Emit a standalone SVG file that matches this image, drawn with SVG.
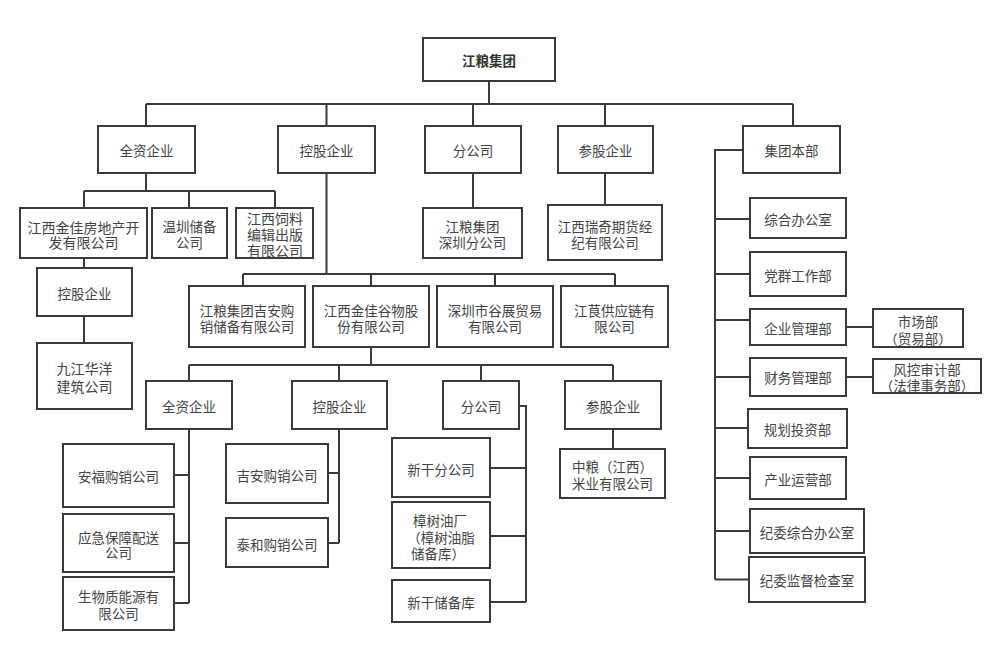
<svg xmlns="http://www.w3.org/2000/svg" width="1000" height="655" viewBox="0 0 1000 655">
<style>
.b{fill:#fff;stroke:#3a3a3a;stroke-width:2}
.c{fill:none;stroke:#3a3a3a;stroke-width:2}
text{font-family:"Noto Sans CJK SC","Noto Sans",sans-serif;font-size:13.5px;fill:#444;text-anchor:middle;dominant-baseline:central}
.t{font-weight:bold;fill:#333}
.f14{font-size:14px}
</style>
<rect width="1000" height="655" fill="#fff"/>
<g id="connectors" class="c">
<path d="M489,81V104M146,104H793M146,104V126M326.5,104V126M473,104V126M605,104V126M793,104V126"/>
<path d="M146,173V191M84,191H275M84,191V208M189,191V208M275,191V208"/>
<path d="M84,258V268M84,316V343"/>
<path d="M326.5,173V274M243,274H615M243,274V286M371,274V286M495,274V286M615,274V286"/>
<path d="M473,173V208M605,173V205"/>
<path d="M743,150H715V579.5M715,219H750M715,274H750M715,320H750M715,377H750M715,428H748M715,478H750M715,531H750M715,579.5H749"/>
<path d="M846,327H873M846,377H873"/>
<path d="M371,347V365M189,365H613M189,365V381M339,365V381M481,365V381M613,365V381"/>
<path d="M189,429V603M174,475H189M174,543H189M174,603H189"/>
<path d="M339,429V543M328,473H339M328,543H339"/>
<path d="M519,406H526V602M490,468H526M490,536H526M490,602H526"/>
<path d="M613,429V449"/>
</g>
<g id="root"><rect class="b" x="423" y="38" width="132" height="43"/><text class="t" x="489" y="60">江粮集团</text></g>
<g id="n-qz"><rect class="b" x="98" y="126" width="97" height="47"/><text x="146.5" y="150">全资企业</text></g>
<g id="n-kg"><rect class="b" x="278" y="126" width="97" height="47"/><text x="326.5" y="150">控股企业</text></g>
<g id="n-fgs"><rect class="b" x="425" y="126" width="96" height="47"/><text x="473" y="150">分公司</text></g>
<g id="n-cg"><rect class="b" x="558" y="126" width="95" height="47"/><text x="605.5" y="150">参股企业</text></g>
<g id="n-jtbb"><rect class="b" x="743" y="126" width="97" height="47"/><text x="791.5" y="150">集团本部</text></g>
<g id="n-fdc"><rect class="b" x="20" y="208" width="127" height="50"/><text class="f14" x="83.5" y="226.5">江西金佳房地产开<tspan x="83.5" dy="15.5">发有限公司</tspan></text></g>
<g id="n-wz"><rect class="b" x="152" y="208" width="75" height="50"/><text x="189.5" y="225.5">温圳储备<tspan x="189.5" dy="16.5">公司</tspan></text></g>
<g id="n-sl"><rect class="b" x="236" y="208" width="77" height="50"/><text class="f14" x="275" y="217.5">江西饲料<tspan x="275" dy="16.5">编辑出版</tspan><tspan x="275" dy="16">有限公司</tspan></text></g>
<g id="n-kg2"><rect class="b" x="37" y="268" width="95" height="48"/><text x="84.5" y="293">控股企业</text></g>
<g id="n-hy"><rect class="b" x="37" y="343" width="95" height="66"/><text class="f14" x="84.5" y="368">九江华洋<tspan x="84.5" dy="17.5">建筑公司</tspan></text></g>
<g id="n-szfgs"><rect class="b" x="423" y="208" width="99" height="50"/><text x="472.5" y="226">江粮集团<tspan x="472.5" dy="16">深圳分公司</tspan></text></g>
<g id="n-rq"><rect class="b" x="548" y="205" width="114" height="55"/><text x="605" y="226">江西瑞奇期货经<tspan x="605" dy="16">纪有限公司</tspan></text></g>
<g id="n-ja"><rect class="b" x="189" y="286" width="116" height="61"/><text x="247" y="310">江粮集团吉安购<tspan x="247" dy="16">销储备有限公司</tspan></text></g>
<g id="n-gw"><rect class="b" x="313" y="286" width="116" height="61"/><text x="371" y="310">江西金佳谷物股<tspan x="371" dy="16">份有限公司</tspan></text></g>
<g id="n-gz"><rect class="b" x="437" y="286" width="116" height="61"/><text x="495" y="310">深圳市谷展贸易<tspan x="495" dy="16">有限公司</tspan></text></g>
<g id="n-gyl"><rect class="b" x="561" y="286" width="107" height="61"/><text x="614.5" y="310">江茛供应链有<tspan x="614.5" dy="16">限公司</tspan></text></g>
<g id="n-qz3"><rect class="b" x="146" y="381" width="86" height="48"/><text x="189" y="406">全资企业</text></g>
<g id="n-kg3"><rect class="b" x="292" y="381" width="95" height="48"/><text x="339.5" y="406">控股企业</text></g>
<g id="n-fgs3"><rect class="b" x="443" y="381" width="76" height="48"/><text x="481" y="406">分公司</text></g>
<g id="n-cg3"><rect class="b" x="565" y="381" width="96" height="48"/><text x="613" y="406">参股企业</text></g>
<g id="n-af"><rect class="b" x="63" y="444" width="111" height="63"/><text x="118.5" y="476">安福购销公司</text></g>
<g id="n-yj"><rect class="b" x="63" y="514" width="111" height="58"/><text x="118.5" y="536.5">应急保障配送<tspan x="118.5" dy="15.5">公司</tspan></text></g>
<g id="n-sw"><rect class="b" x="63" y="577" width="111" height="53"/><text x="118.5" y="596">生物质能源有<tspan x="118.5" dy="16.5">限公司</tspan></text></g>
<g id="n-jags"><rect class="b" x="226" y="444" width="102" height="59"/><text x="277" y="474.5">吉安购销公司</text></g>
<g id="n-th"><rect class="b" x="226" y="518" width="102" height="49"/><text x="277" y="544">泰和购销公司</text></g>
<g id="n-xg"><rect class="b" x="392" y="438" width="98" height="59"/><text x="441" y="468.5">新干分公司</text></g>
<g id="n-zs"><rect class="b" x="392" y="502" width="98" height="66"/><text x="440" y="519.5">樟树油厂<tspan x="441" dy="17">（樟树油脂</tspan><tspan x="438" dy="16.5">储备库）</tspan></text></g>
<g id="n-xgck"><rect class="b" x="392" y="580" width="98" height="42"/><text x="441" y="602">新干储备库</text></g>
<g id="n-zl"><rect class="b" x="560" y="449" width="105" height="49"/><text x="612.5" y="466">中粮（江西）<tspan x="612.5" dy="17">米业有限公司</tspan></text></g>
<g id="n-zh"><rect class="b" x="750" y="198" width="96" height="40"/><text x="798" y="219">综合办公室</text></g>
<g id="n-dq"><rect class="b" x="750" y="252" width="96" height="44"/><text x="798" y="275">党群工作部</text></g>
<g id="n-qygl"><rect class="b" x="750" y="309" width="96" height="36"/><text x="798" y="328">企业管理部</text></g>
<g id="n-sc"><rect class="b" x="873" y="309" width="90" height="38"/><text x="918" y="321">市场部<tspan x="918" dy="16.5">（贸易部）</tspan></text></g>
<g id="n-cw"><rect class="b" x="750" y="358" width="96" height="38"/><text x="798" y="377">财务管理部</text></g>
<g id="n-fk"><rect class="b" x="873" y="359" width="108" height="34"/><text x="927" y="369">风控审计部<tspan x="927" dy="15.5">（法律事务部）</tspan></text></g>
<g id="n-gh"><rect class="b" x="748" y="409" width="99" height="39"/><text x="797.5" y="429">规划投资部</text></g>
<g id="n-cy"><rect class="b" x="750" y="457" width="96" height="42"/><text x="798" y="479">产业运营部</text></g>
<g id="n-jwzh"><rect class="b" x="750" y="509" width="114" height="44"/><text x="807" y="531.5">纪委综合办公室</text></g>
<g id="n-jwjd"><rect class="b" x="749" y="557" width="116" height="45"/><text x="807" y="580">纪委监督检查室</text></g>
</svg>
